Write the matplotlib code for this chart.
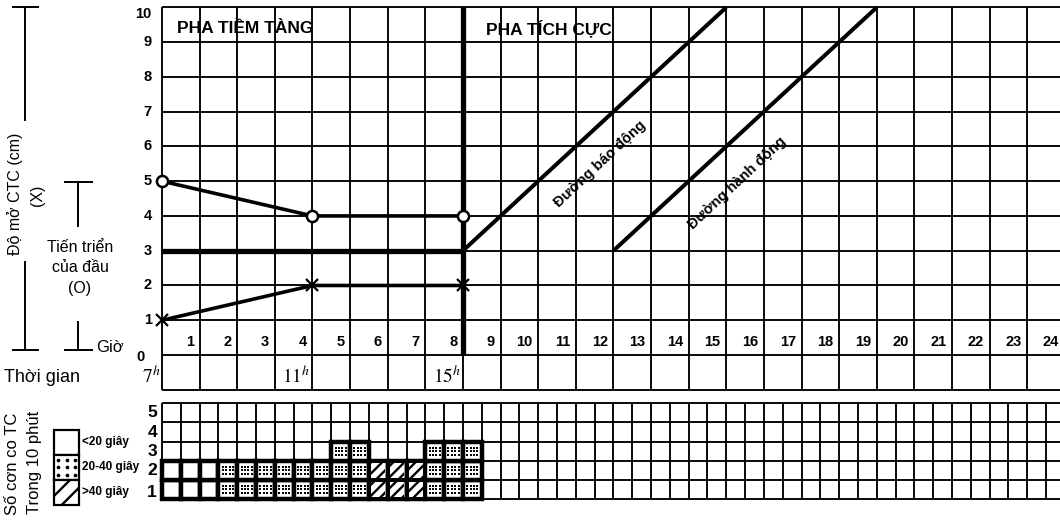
import matplotlib
matplotlib.use('Agg')
import matplotlib.pyplot as plt
from matplotlib.patches import Rectangle
import numpy as np

plt.rcParams['font.family'] = ['Liberation Sans', 'DejaVu Sans']
plt.rcParams['mathtext.fontset'] = 'stix'
plt.rcParams['hatch.linewidth'] = 1.7

# ---------------- data ----------------
hour_labels = list(range(1, 25))
dilation_labels = list(range(0, 11))
clock_labels = ['7', '11', '15']
clock_hours = [0, 4, 8]

cervix_hours = [0, 4, 8]
cervix_cm = [1, 2, 2]          # X
head_hours = [0, 4, 8]
head_level = [5, 4, 4]         # O

latent_limit_hour = 8
latent_limit_cm = 3
alert_hours = [8, 15]
alert_cm = [3, 10]
action_hours = [12, 19]
action_cm = [3, 10]

contraction_counts = [2, 2, 2, 2, 2, 2, 2, 2, 2, 3, 3, 2, 2, 2, 3, 3, 3]
contraction_types = ['<20'] * 3 + ['20-40'] * 8 + ['>40'] * 3 + ['20-40'] * 3
legend_labels = ['<20 giây', '20-40 giây', '>40 giây']

# ---------------- figure ----------------
W, H = 1060, 521
fig = plt.figure(figsize=(W / 100, H / 100), dpi=100)
K = 'black'
GRID_LW = 1.35


def px_axes(x0, y0, x1, y1, z=1):
    a = fig.add_axes([x0 / W, 1 - y1 / H, (x1 - x0) / W, (y1 - y0) / H], zorder=z)
    a.set_axis_off()
    return a


COLW = 37.62
X0 = 162
X24 = X0 + 24 * COLW

# ---------- upper partograph ----------
ax = px_axes(X0, 7.3, X24, 389.8, z=2)
ax.set_xlim(0, 24)
ax.set_ylim(-1, 10)
ax.vlines(np.arange(0, 25), -1, 10, color=K, lw=GRID_LW, clip_on=False)
ax.hlines(np.arange(-1, 11), 0, 24, color=K, lw=GRID_LW, clip_on=False)

ax.plot([0, latent_limit_hour], [latent_limit_cm, latent_limit_cm], color=K, lw=3.8,
        solid_capstyle='butt')
ax.plot([latent_limit_hour, latent_limit_hour], [0, 10], color=K, lw=3.8,
        solid_capstyle='butt', clip_on=False)
ax.plot(alert_hours, alert_cm, color=K, lw=2.9, solid_capstyle='butt', clip_on=False)
ax.plot(action_hours, action_cm, color=K, lw=2.9, solid_capstyle='butt', clip_on=False)

ax.plot(cervix_hours, cervix_cm, color=K, lw=2.6, marker='x', ms=8, mew=1.6,
        clip_on=False, zorder=4)
ax.plot(head_hours, head_level, color=K, lw=2.6, marker='o', ms=8, mew=1.8,
        mfc='white', mec=K, clip_on=False, zorder=4)

for v in dilation_labels:
    if v == 10:
        ax.text(-0.27, v, str(v), ha='right', va='top', fontsize=10.5,
                fontweight='bold')
    elif v == 0:
        ax.text(-0.45, v - 0.05, str(v), ha='right', va='center', fontsize=10.5,
                fontweight='bold')
    else:
        ax.text(-0.27, v, str(v), ha='right', va='center', fontsize=10.5,
                fontweight='bold')

for h in hour_labels:
    ax.text(h - 0.15, 0.17, str(h), ha='right', va='bottom', fontsize=10.5,
            fontweight='bold')

for lab, h in zip(clock_labels, clock_hours):
    ax.text(h - 0.05, -0.93, r'$\mathit{' + lab + r'}^{\mathit{h}}$', ha='right',
            va='bottom', fontsize=14)

ax.text(0.4, 9.4, 'PHA TIỀM TÀNG', ha='left', va='center', fontsize=12.5,
        fontweight='bold')
ax.text(8.6, 9.4, 'PHA TÍCH CỰC', ha='left', va='center', fontsize=12.5,
        fontweight='bold')
ax.text(11.65, 5.5, 'Đường báo động', ha='center', va='center', rotation=43,
        rotation_mode='anchor', fontsize=10.5, fontweight='bold')
ax.text(15.3, 4.95, 'Đường hành động', ha='center', va='center', rotation=43,
        rotation_mode='anchor', fontsize=10.5, fontweight='bold')

# ---------- lower contraction grid ----------
bx = px_axes(X0, 403.3, X24, 499, z=2)
bx.set_xlim(0, 24)
bx.set_ylim(0, 5)
bx.vlines(np.arange(0, 24.01, 0.5), 0, 5, color=K, lw=GRID_LW, clip_on=False)
bx.hlines(np.arange(0, 6), 0, 24, color=K, lw=GRID_LW, clip_on=False)

dot_dx = np.array([-1.5, -0.5, 0.5, 1.5]) * 0.09
dot_dy = np.array([-1, 0, 1]) * 0.19
for i, (c, t) in enumerate(zip(contraction_counts, contraction_types)):
    x = i * 0.5
    for r in range(c):
        bx.add_patch(Rectangle((x, r), 0.5, 1, fc='white', ec=K, lw=3.2,
                               clip_on=False, zorder=3))
        if t == '20-40':
            gx, gy = np.meshgrid(x + 0.25 + dot_dx, r + 0.5 + dot_dy)
            bx.scatter(gx.ravel(), gy.ravel(), s=2.3, marker='s', color=K,
                       lw=0, zorder=4)
        elif t == '>40':
            bx.add_patch(Rectangle((x + 0.06, r + 0.12), 0.38, 0.76, fc='white',
                                   ec=K, lw=0, hatch='///', zorder=4))

for r in range(5):
    bx.text(-0.13, r + 0.5 - (0.15 if r == 0 else 0), str(r + 1), ha='right',
            va='center', fontsize=12.5, fontweight='bold')

# ---------- legend boxes ----------
lg = px_axes(54, 430, 79, 504.5, z=2)
lg.set_xlim(0, 1)
lg.set_ylim(0, 3)
lg.add_patch(Rectangle((0, 2), 1, 1, fc='white', ec=K, lw=1.6, clip_on=False))
lg.add_patch(Rectangle((0, 1), 1, 1, fc='white', ec=K, lw=1.6, clip_on=False))
lg.add_patch(Rectangle((0, 0), 1, 1, fc='white', ec=K, lw=1.6, hatch='//',
                       clip_on=False))
ldx, ldy = np.meshgrid([0.17, 0.5, 0.83], [1.2, 1.5, 1.8])
lg.scatter(ldx.ravel(), ldy.ravel(), s=7, color=K, lw=0)

# ---------- annotation layer (pixel coordinates) ----------
an = px_axes(0, 0, W, H, z=1)
an.set_xlim(0, W)
an.set_ylim(H, 0)
for lab, yy in zip(legend_labels, [442, 467, 492]):
    an.text(82, yy, lab, ha='left', va='center', fontsize=8.5, fontweight='bold')

ALW = 1.4
an.plot([13, 38], [7.3, 7.3], color=K, lw=ALW)
an.plot([25, 25], [7.3, 120], color=K, lw=ALW)
an.plot([25, 25], [262, 350], color=K, lw=ALW)
an.plot([13, 38], [350, 350], color=K, lw=ALW)
an.text(15, 194, 'Độ mở CTC (cm)', rotation=90, ha='center', va='center',
        fontsize=11.5)
an.text(37, 195, '(X)', rotation=90, ha='center', va='center', fontsize=11.5)

an.plot([65, 92], [181.7, 181.7], color=K, lw=ALW)
an.plot([78, 78], [181.7, 226], color=K, lw=ALW)
an.plot([78, 78], [322, 350], color=K, lw=ALW)
an.plot([65, 92], [350, 350], color=K, lw=ALW)
an.text(80, 247, 'Tiến triển', ha='center', va='center', fontsize=11.5)
an.text(80, 268, 'của đầu', ha='center', va='center', fontsize=11.5)
an.text(80, 289, '(O)', ha='center', va='center', fontsize=11.5)
an.text(96, 348, 'Giờ', ha='left', va='center', fontsize=12)
an.text(4, 378, 'Thời gian', ha='left', va='center', fontsize=13)

an.text(13, 464, 'Số cơn co TC', rotation=90, ha='center', va='center',
        fontsize=12)
an.text(35, 462, 'Trong 10 phút', rotation=90, ha='center', va='center',
        fontsize=12)

fig.savefig('out.png', dpi=100)
